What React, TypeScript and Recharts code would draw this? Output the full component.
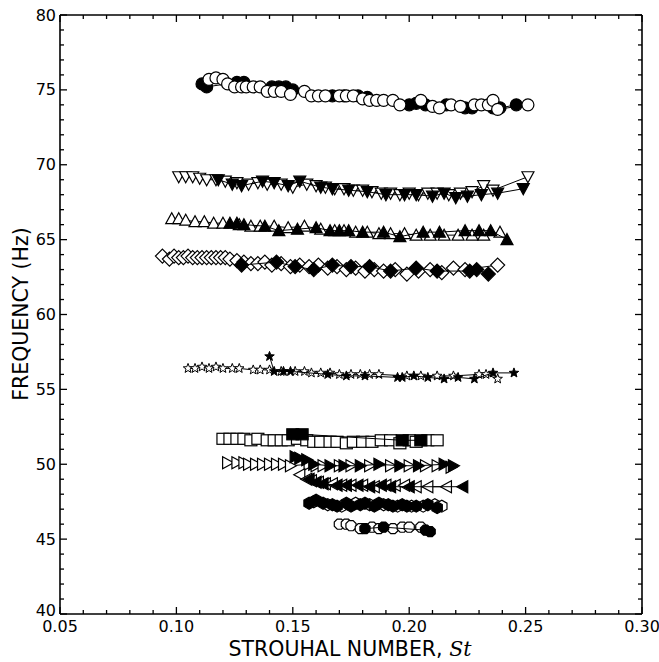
import React from 'react';
import { ScatterChart, Scatter, XAxis, YAxis } from 'recharts';

type Pt = [number, number];

// [St, frequency Hz]
const circleOpen: Pt[] = [
  [0.114, 75.7], [0.117, 75.8], [0.120, 75.7], [0.122, 75.4], [0.125, 75.2], [0.128, 75.2], [0.130, 75.2],
  [0.133, 75.2], [0.136, 75.2], [0.139, 74.9], [0.142, 74.9], [0.145, 74.9], [0.149, 74.7], [0.155, 74.9],
  [0.158, 74.6], [0.161, 74.6], [0.164, 74.6], [0.170, 74.6], [0.173, 74.6], [0.176, 74.6], [0.180, 74.4],
  [0.183, 74.3], [0.186, 74.3], [0.189, 74.3], [0.193, 74.3], [0.196, 74.0], [0.205, 74.3], [0.210, 73.9],
  [0.213, 73.8], [0.218, 74.0], [0.222, 73.9], [0.228, 74.0], [0.231, 74.0], [0.234, 74.0], [0.236, 74.3],
  [0.238, 73.7], [0.251, 74.0],
];
const circleFilled: Pt[] = [
  [0.111, 75.4], [0.113, 75.2], [0.126, 75.5], [0.129, 75.5], [0.141, 75.2], [0.144, 75.2], [0.147, 75.2],
  [0.150, 75.0], [0.167, 74.6], [0.172, 74.6], [0.178, 74.6], [0.182, 74.5], [0.200, 74.0], [0.203, 74.1],
  [0.207, 74.0], [0.216, 74.0], [0.224, 73.8], [0.227, 73.8], [0.236, 73.8], [0.239, 73.8], [0.246, 74.0],
];

const downOpen: Pt[] = [
  [0.101, 69.2], [0.104, 69.2], [0.107, 69.2], [0.110, 69.1], [0.113, 69.0], [0.117, 69.0], [0.121, 68.9],
  [0.126, 68.8], [0.131, 68.7], [0.135, 68.8], [0.139, 68.7], [0.145, 68.7], [0.150, 68.5], [0.156, 68.7],
  [0.160, 68.6], [0.164, 68.5], [0.168, 68.4], [0.172, 68.4], [0.176, 68.3], [0.180, 68.3], [0.184, 68.2],
  [0.188, 68.1], [0.192, 68.1], [0.196, 68.0], [0.200, 68.1], [0.204, 68.0], [0.208, 68.1], [0.212, 68.1],
  [0.217, 68.0], [0.222, 68.1], [0.227, 68.2], [0.232, 68.6], [0.236, 68.3], [0.251, 69.2],
];
const downFilled: Pt[] = [
  [0.118, 69.0], [0.124, 68.7], [0.128, 68.6], [0.137, 68.9], [0.142, 68.8], [0.148, 68.6], [0.153, 68.9],
  [0.162, 68.5], [0.167, 68.4], [0.174, 68.3], [0.182, 68.2], [0.190, 68.0], [0.198, 68.0], [0.203, 68.0],
  [0.210, 67.9], [0.215, 68.1], [0.220, 67.8], [0.225, 67.9], [0.231, 68.0], [0.238, 68.1], [0.249, 68.4],
];

const upOpen: Pt[] = [
  [0.098, 66.4], [0.101, 66.4], [0.104, 66.3], [0.108, 66.2], [0.112, 66.2], [0.116, 66.1], [0.120, 66.1],
  [0.127, 66.0], [0.132, 65.9], [0.136, 65.9], [0.142, 65.9], [0.148, 65.8], [0.155, 65.9], [0.162, 65.7],
  [0.168, 65.6], [0.172, 65.6], [0.177, 65.5], [0.182, 65.5], [0.187, 65.4], [0.192, 65.4], [0.198, 65.4],
  [0.203, 65.3], [0.209, 65.3], [0.215, 65.3], [0.221, 65.3], [0.227, 65.3], [0.232, 65.3], [0.239, 65.5],
];
const upFilled: Pt[] = [
  [0.123, 66.1], [0.126, 66.1], [0.129, 66.0], [0.138, 65.9], [0.144, 65.6], [0.152, 65.7], [0.160, 65.8],
  [0.166, 65.6], [0.170, 65.6], [0.174, 65.6], [0.180, 65.5], [0.189, 65.5], [0.196, 65.2], [0.206, 65.5],
  [0.213, 65.5], [0.224, 65.6], [0.230, 65.6], [0.235, 65.6], [0.242, 65.0],
];

const diamondOpen: Pt[] = [
  [0.094, 63.9], [0.097, 63.7], [0.099, 63.9], [0.101, 63.8], [0.103, 63.8], [0.105, 63.9], [0.107, 63.8],
  [0.109, 63.8], [0.111, 63.8], [0.113, 63.8], [0.115, 63.8], [0.117, 63.8], [0.119, 63.8], [0.121, 63.8],
  [0.123, 63.7], [0.126, 63.6], [0.129, 63.5], [0.132, 63.4], [0.135, 63.4], [0.138, 63.5], [0.141, 63.3],
  [0.145, 63.4], [0.149, 63.2], [0.153, 63.3], [0.157, 63.2], [0.161, 63.3], [0.165, 63.1], [0.169, 63.2],
  [0.173, 63.0], [0.177, 63.1], [0.181, 62.9], [0.185, 63.0], [0.189, 62.9], [0.194, 63.0], [0.199, 62.7],
  [0.204, 62.9], [0.209, 63.0], [0.214, 62.8], [0.219, 63.1], [0.224, 63.0], [0.238, 63.3],
];
const diamondFilled: Pt[] = [
  [0.128, 63.3], [0.143, 63.5], [0.151, 63.2], [0.159, 63.0], [0.167, 63.3], [0.175, 63.2], [0.183, 63.2],
  [0.192, 62.9], [0.203, 63.1], [0.212, 62.9], [0.226, 62.9], [0.229, 63.0], [0.234, 62.7],
];

const starOpen: Pt[] = [
  [0.105, 56.4], [0.108, 56.4], [0.111, 56.5], [0.114, 56.4], [0.117, 56.5], [0.120, 56.4], [0.124, 56.4],
  [0.127, 56.4], [0.133, 56.3], [0.136, 56.3], [0.140, 56.3], [0.145, 56.2], [0.151, 56.2], [0.155, 56.2],
  [0.158, 56.1], [0.162, 56.1], [0.166, 56.1], [0.170, 56.0], [0.175, 56.0], [0.179, 56.0], [0.183, 56.0],
  [0.187, 56.0], [0.199, 55.9], [0.205, 55.9], [0.212, 55.9], [0.219, 55.9], [0.230, 56.0], [0.233, 56.0],
  [0.238, 55.7],
];
const starFilled: Pt[] = [
  [0.140, 57.2], [0.142, 56.2], [0.146, 56.2], [0.149, 56.2], [0.165, 56.0], [0.173, 55.9], [0.181, 55.9],
  [0.195, 55.8], [0.197, 55.8], [0.202, 55.9], [0.208, 55.8], [0.215, 55.7], [0.221, 55.8], [0.228, 55.7],
  [0.236, 56.1], [0.245, 56.1],
];

const squareOpen: Pt[] = [
  [0.120, 51.7], [0.123, 51.7], [0.126, 51.7], [0.129, 51.7], [0.132, 51.6], [0.135, 51.7], [0.139, 51.6],
  [0.142, 51.6], [0.145, 51.6], [0.148, 51.6], [0.152, 51.7], [0.156, 51.6], [0.159, 51.5], [0.162, 51.5],
  [0.166, 51.5], [0.169, 51.5], [0.173, 51.4], [0.176, 51.5], [0.180, 51.5], [0.184, 51.5], [0.188, 51.6],
  [0.192, 51.6], [0.196, 51.4], [0.200, 51.6], [0.203, 51.5], [0.208, 51.6], [0.212, 51.6],
];
const squareFilled: Pt[] = [[0.150, 52.0], [0.154, 52.0], [0.197, 51.6], [0.205, 51.6]];

const rightOpen: Pt[] = [
  [0.122, 50.1], [0.126, 50.1], [0.129, 50.1], [0.131, 50.0], [0.134, 50.0], [0.137, 50.0], [0.140, 50.0],
  [0.143, 50.0], [0.146, 50.0], [0.149, 49.9], [0.157, 50.0], [0.160, 49.9], [0.163, 49.9], [0.170, 49.9],
  [0.175, 49.9], [0.183, 49.9], [0.192, 49.9], [0.200, 49.9], [0.207, 49.9], [0.212, 49.9], [0.218, 49.8],
];
const rightFilled: Pt[] = [
  [0.151, 50.5], [0.153, 50.4], [0.156, 50.3], [0.159, 50.0], [0.166, 49.9], [0.172, 49.9], [0.179, 49.9],
  [0.187, 50.0], [0.196, 49.9], [0.204, 49.9], [0.215, 50.0], [0.219, 49.9],
];

const leftOpen: Pt[] = [
  [0.153, 49.3], [0.156, 49.0], [0.158, 48.9], [0.161, 48.8], [0.164, 48.7], [0.167, 48.7], [0.171, 48.6],
  [0.175, 48.6], [0.180, 48.6], [0.185, 48.5], [0.190, 48.6], [0.194, 48.6], [0.198, 48.6], [0.203, 48.5],
  [0.208, 48.5], [0.216, 48.5],
];
const leftFilled: Pt[] = [
  [0.157, 49.0], [0.160, 48.8], [0.163, 48.7], [0.169, 48.6], [0.173, 48.6], [0.178, 48.6], [0.183, 48.5],
  [0.188, 48.6], [0.192, 48.5], [0.200, 48.5], [0.223, 48.5],
];

const hexOpen: Pt[] = [
  [0.159, 47.5], [0.165, 47.3], [0.171, 47.2], [0.177, 47.4], [0.183, 47.3], [0.189, 47.3], [0.195, 47.2],
  [0.201, 47.2], [0.206, 47.2], [0.211, 47.3], [0.214, 47.2],
];
const hexFilled: Pt[] = [
  [0.157, 47.4], [0.160, 47.6], [0.163, 47.4], [0.167, 47.3], [0.169, 47.2], [0.173, 47.4], [0.175, 47.2],
  [0.179, 47.3], [0.181, 47.4], [0.185, 47.2], [0.187, 47.4], [0.191, 47.3], [0.193, 47.2], [0.197, 47.3],
  [0.199, 47.2], [0.203, 47.2], [0.208, 47.3], [0.212, 47.1],
];

const octOpen: Pt[] = [
  [0.170, 46.0], [0.173, 46.0], [0.175, 45.9], [0.179, 45.7], [0.184, 45.8], [0.187, 45.7], [0.193, 45.7],
  [0.197, 45.8], [0.200, 45.8], [0.205, 45.8],
];
const octFilled: Pt[] = [[0.181, 45.7], [0.189, 45.8], [0.207, 45.6], [0.209, 45.5]];

const xTicks = [0.05, 0.06, 0.07, 0.08, 0.09, 0.10, 0.11, 0.12, 0.13, 0.14, 0.15, 0.16, 0.17, 0.18, 0.19, 0.20,
  0.21, 0.22, 0.23, 0.24, 0.25, 0.26, 0.27, 0.28, 0.29, 0.30];
const xMajor = [0.05, 0.10, 0.15, 0.20, 0.25, 0.30];
const yTicks = [40, 41, 42, 43, 44, 45, 46, 47, 48, 49, 50, 51, 52, 53, 54, 55, 56, 57, 58, 59, 60, 61, 62, 63,
  64, 65, 66, 67, 68, 69, 70, 71, 72, 73, 74, 75, 76, 77, 78, 79, 80];
const yMajor = [40, 45, 50, 55, 60, 65, 70, 75, 80];

const FONT = '"DejaVu Sans", sans-serif';

const isMajorX = (v: number) => xMajor.some((m) => Math.abs(m - v) < 1e-6);
const isMajorY = (v: number) => yMajor.includes(v);

const poly = (pts: number[][]) => pts.map((p) => p.join(',')).join(' ');

const makeShape = (kind: string, filled: boolean) => (props: any) => {
  const { cx, cy } = props;
  const fill = filled ? '#000' : '#fff';
  const common = { fill, stroke: '#000', strokeWidth: 1.2 };
  switch (kind) {
    case 'circle':
      return <circle cx={cx} cy={cy} r={6} {...common} />;
    case 'down':
      return <polygon points={poly([[cx - 6, cy - 5], [cx + 6, cy - 5], [cx, cy + 6]])} {...common} />;
    case 'up':
      return <polygon points={poly([[cx - 6, cy + 5], [cx + 6, cy + 5], [cx, cy - 6]])} {...common} />;
    case 'diamond':
      return <polygon points={poly([[cx, cy - 7], [cx + 7, cy], [cx, cy + 7], [cx - 7, cy]])} {...common} />;
    case 'square':
      return <rect x={cx - 6} y={cy - 5.5} width={12} height={11} {...common} />;
    case 'right':
      return <polygon points={poly([[cx - 5, cy - 6], [cx - 5, cy + 6], [cx + 6, cy]])} {...common} />;
    case 'left':
      return <polygon points={poly([[cx + 5, cy - 6], [cx + 5, cy + 6], [cx - 6, cy]])} {...common} />;
    case 'star': {
      const pts: number[][] = [];
      for (let i = 0; i < 10; i++) {
        const r = i % 2 === 0 ? 5 : 2.1;
        const a = -Math.PI / 2 + (i * Math.PI) / 5;
        pts.push([cx + r * Math.cos(a), cy + r * Math.sin(a)]);
      }
      return <polygon points={poly(pts)} fill={fill} stroke="#000" strokeWidth={1} />;
    }
    case 'hex':
    case 'oct': {
      const n = kind === 'hex' ? 6 : 8;
      const rr = kind === 'hex' ? 6 : 5.5;
      const pts: number[][] = [];
      for (let i = 0; i < n; i++) {
        const a = (i * 2 * Math.PI) / n + (kind === 'hex' ? Math.PI / 6 : Math.PI / 8);
        pts.push([cx + rr * Math.cos(a), cy + rr * Math.sin(a)]);
      }
      return <polygon points={poly(pts)} {...common} />;
    }
    default:
      return <circle cx={cx} cy={cy} r={5} {...common} />;
  }
};

const series: { kind: string; filled: boolean; pts: Pt[] }[] = [
  { kind: 'circle', filled: true, pts: circleFilled },
  { kind: 'circle', filled: false, pts: circleOpen },
  { kind: 'down', filled: false, pts: downOpen },
  { kind: 'down', filled: true, pts: downFilled },
  { kind: 'up', filled: false, pts: upOpen },
  { kind: 'up', filled: true, pts: upFilled },
  { kind: 'diamond', filled: false, pts: diamondOpen },
  { kind: 'diamond', filled: true, pts: diamondFilled },
  { kind: 'star', filled: false, pts: starOpen },
  { kind: 'star', filled: true, pts: starFilled },
  { kind: 'square', filled: false, pts: squareOpen },
  { kind: 'square', filled: true, pts: squareFilled },
  { kind: 'right', filled: false, pts: rightOpen },
  { kind: 'right', filled: true, pts: rightFilled },
  { kind: 'left', filled: false, pts: leftOpen },
  { kind: 'left', filled: true, pts: leftFilled },
  { kind: 'hex', filled: false, pts: hexOpen },
  { kind: 'hex', filled: true, pts: hexFilled },
  { kind: 'oct', filled: false, pts: octOpen },
  { kind: 'oct', filled: true, pts: octFilled },
];

const BottomTick = (props: any) => {
  const { x, y, payload } = props;
  const major = isMajorX(payload.value);
  return (
    <g>
      <line x1={x} y1={y} x2={x} y2={y - (major ? 7 : 4)} stroke="#000" strokeWidth={1.3} />
      {major && (
        <text x={x} y={y + 18} textAnchor="middle" fontSize={16} fontFamily={FONT} fill="#000">
          {payload.value.toFixed(2)}
        </text>
      )}
    </g>
  );
};

const TopTick = (props: any) => {
  const { x, y, payload } = props;
  const major = isMajorX(payload.value);
  return <line x1={x} y1={y} x2={x} y2={y + (major ? 7 : 4)} stroke="#000" strokeWidth={1.3} />;
};

const LeftTick = (props: any) => {
  const { x, y, payload } = props;
  const major = isMajorY(payload.value);
  return (
    <g>
      <line x1={x} y1={y} x2={x + (major ? 7 : 4)} y2={y} stroke="#000" strokeWidth={1.3} />
      {major && (
        <text x={x - 4} y={payload.value === 40 ? y - 4 : y} dy="0.35em" textAnchor="end" fontSize={16} fontFamily={FONT} fill="#000">
          {payload.value}
        </text>
      )}
    </g>
  );
};

const RightTick = (props: any) => {
  const { x, y, payload } = props;
  const major = isMajorY(payload.value);
  return <line x1={x} y1={y} x2={x - (major ? 7 : 4)} y2={y} stroke="#000" strokeWidth={1.3} />;
};

export default function App() {
  const axisLine = { stroke: '#000', strokeWidth: 1.6 };
  return (
    <div style={{ position: 'absolute', left: 0, top: 0, width: 659, height: 662, background: '#fff' }}>
      <ScatterChart width={659} height={662} margin={{ top: 14, right: 16, left: 0, bottom: 0 }}>
        <XAxis
          type="number"
          dataKey="st"
          domain={[0.05, 0.3]}
          ticks={xTicks}
          interval={0}
          height={48}
          tickSize={0}
          tickMargin={0}
          tickLine={false}
          axisLine={axisLine}
          tick={<BottomTick />}
          allowDataOverflow
        />
        <XAxis
          xAxisId="top"
          orientation="top"
          type="number"
          dataKey="st"
          domain={[0.05, 0.3]}
          ticks={xTicks}
          interval={0}
          height={1}
          tickSize={0}
          tickMargin={0}
          tickLine={false}
          axisLine={axisLine}
          tick={<TopTick />}
          allowDataOverflow
        />
        <YAxis
          type="number"
          dataKey="f"
          domain={[40, 80]}
          ticks={yTicks}
          interval={0}
          width={60}
          tickSize={0}
          tickMargin={0}
          tickLine={false}
          axisLine={axisLine}
          tick={<LeftTick />}
          allowDataOverflow
        />
        <YAxis
          yAxisId="right"
          orientation="right"
          type="number"
          dataKey="f"
          domain={[40, 80]}
          ticks={yTicks}
          interval={0}
          width={1}
          tickSize={0}
          tickMargin={0}
          tickLine={false}
          axisLine={axisLine}
          tick={<RightTick />}
          allowDataOverflow
        />
        {series.map((s, i) => (
          <Scatter
            key={i}
            data={s.pts.map(([st, f]) => ({ st, f }))}
            line={{ stroke: '#000', strokeWidth: 1 }}
            lineType="joint"
            shape={makeShape(s.kind, s.filled)}
            isAnimationActive={false}
          />
        ))}
        {/* invisible series so the mirrored top/right axes get drawn */}
        <Scatter
          xAxisId="top"
          yAxisId="right"
          data={octFilled.map(([st, f]) => ({ st, f }))}
          shape={() => <g />}
          isAnimationActive={false}
        />
      </ScatterChart>
      <svg
        width={659}
        height={662}
        style={{ position: 'absolute', left: 0, top: 0, pointerEvents: 'none' }}
      >
        <text x={350} y={656} textAnchor="middle" fontSize={20.5} fontFamily={FONT} fill="#000">
          STROUHAL NUMBER,{' '}
          <tspan fontFamily='"DejaVu Serif", serif' fontStyle="italic">St</tspan>
        </text>
        <text
          x={0}
          y={0}
          transform="translate(28,314) rotate(-90)"
          textAnchor="middle"
          fontSize={20.5}
          fontFamily={FONT}
          fill="#000"
        >
          FREQUENCY (Hz)
        </text>
      </svg>
    </div>
  );
}
